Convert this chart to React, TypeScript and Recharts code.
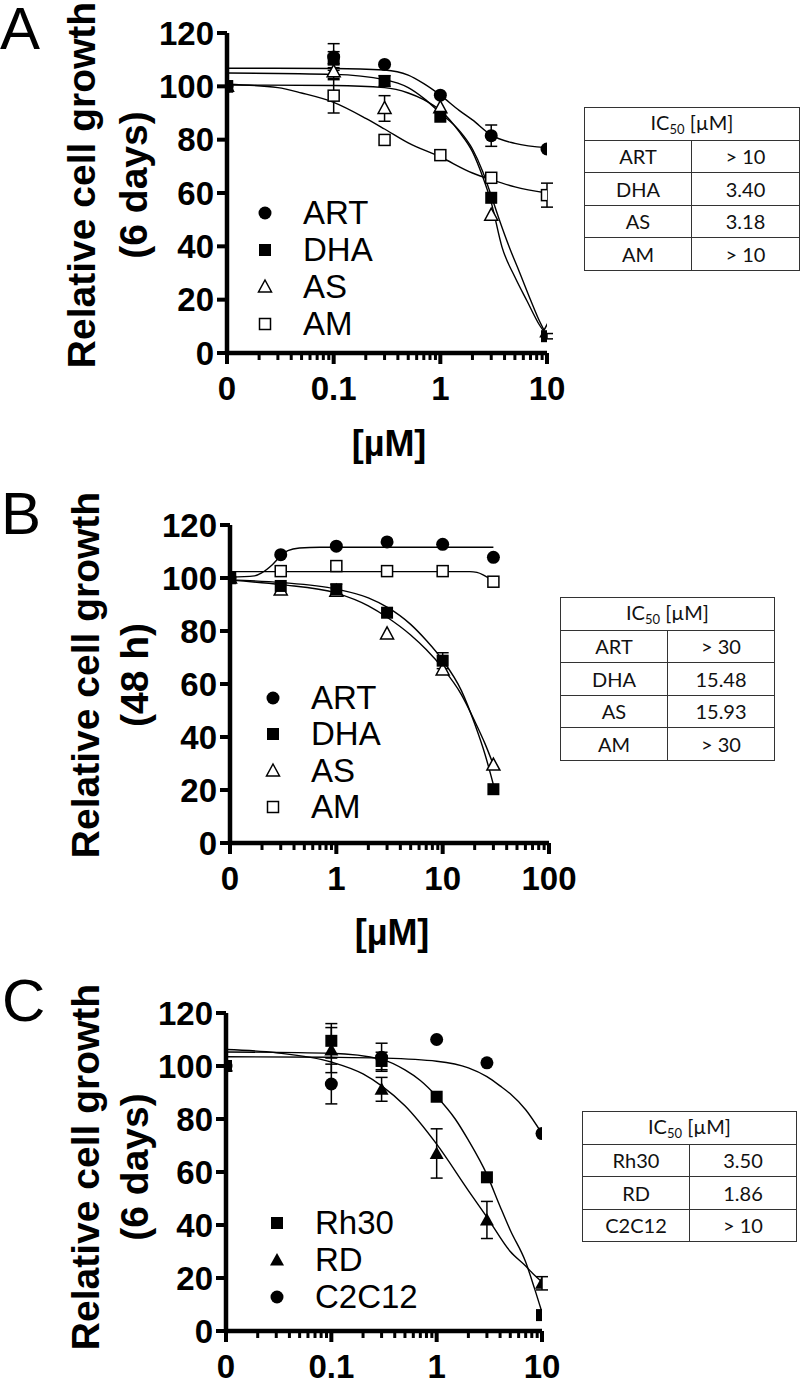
import React from 'react';
import { ComposedChart, Line, Scatter, XAxis, YAxis, ErrorBar } from 'recharts';

const SANS = '"Liberation Sans", Arial, Helvetica, sans-serif';
const TABLE_FONT = 'Lato, "Noto Sans", sans-serif';
const MU = '\u00b5';

type Pt = [number, number];
type Kind = 'circle' | 'square' | 'triangle' | 'openTriangle' | 'openSquare';

const yTicks = [0, 20, 40, 60, 80, 100, 120];

// ---------- Panel A: 6 days ----------
const concA = [0, 0.1, 0.3, 1, 3, 10];
const artA = [100, 111, 108.2, 96.7, 81.5, 76.5];
const artAErr = [null, 5, null, null, 4, null];
const dhaA = [100, 110, 102, 88.6, 58.2, 6.3];
const dhaAErr = [null, 3, 2, null, null, 1];
const asA = [100, 105.5, 91.7, 92, 51.7, 8];
const asAErr = [null, 3, 4.8, null, null, null];
const amA = [100, 96.5, 79.9, 74.2, 65.7, 59.2];
const amAErr = [null, 6.5, null, null, null, 4.5];

// fitted curves (x = 0 means the axis break)
const fitArtA: Pt[] = [[0, 106.8], [0.1, 106.7], [0.3, 106.1], [0.5, 104.2], [0.7, 101], [1, 96.7], [1.5, 91], [2, 87.4], [3, 81.7], [5, 78.6], [10, 77]];
const fitDhaA: Pt[] = [[0, 105], [0.1, 104.5], [0.3, 102.5], [0.5, 99.5], [0.7, 95.5], [1, 90], [1.5, 83.5], [2, 76.5], [2.5, 68], [3, 59], [3.5, 51], [4.5, 39], [5.5, 30.5], [7, 20], [8.5, 12], [10, 6.5]];
const fitAsA: Pt[] = [[0, 100.5], [0.1, 100.3], [0.3, 99.5], [0.5, 97.5], [0.7, 95], [1, 91], [1.5, 83], [2, 75.5], [2.5, 66], [3, 56.5], [3.8, 39.5], [5, 28.5], [6.5, 19.5], [8.5, 10.5], [10, 6.5]];
const fitAmA: Pt[] = [[0, 100.8], [0.03, 99.5], [0.05, 97.5], [0.1, 94], [0.2, 88], [0.3, 84], [0.5, 78.8], [1, 73.5], [2, 67.5], [3, 65], [5, 62.3], [10, 60]];

const icA = [['ART', '> 10'], ['DHA', '3.40'], ['AS', '3.18'], ['AM', '> 10']];

// ---------- Panel B: 48 h ----------
const concB = [0, 0.3, 1, 3, 10, 30];
const artB = [100, 108.8, 112, 113.6, 112.7, 107.8];
const dhaB = [100, 97, 95.7, 86.9, 68.8, 20.3];
const dhaBErr = [null, null, 2, null, 3, null];
const asB = [100, 95.5, 95, 78.9, 65.3, 29.4];
const amB = [100, 102.6, 104.5, 102.6, 102.6, 98.6];

const fitArtB: Pt[] = [[0, 100.3], [0.17, 100.8], [0.2, 102], [0.25, 105], [0.3, 108.3], [0.35, 110.3], [0.45, 111.3], [0.7, 111.6], [30, 111.6]];
const fitDhaB: Pt[] = [[0, 99.3], [0.3, 98.3], [1, 95.8], [2, 92.5], [3, 89], [5, 82.5], [7, 76.5], [10, 69], [15, 57.5], [20, 45], [25, 33.5], [30, 22]];
const fitAsB: Pt[] = [[0, 99.2], [0.3, 97.5], [1, 94.3], [2, 89.5], [3, 85.2], [5, 78.5], [7, 73], [10, 66], [15, 56], [20, 46], [25, 37.5], [30, 29.5]];
const fitAmB: Pt[] = [[0, 102.4], [18, 102.4], [21, 102.1], [24, 101.2], [27, 100], [30, 98.6]];

const icB = [['ART', '> 30'], ['DHA', '15.48'], ['AS', '15.93'], ['AM', '> 30']];

// ---------- Panel C: cell lines, 6 days ----------
const concC = [0, 0.1, 0.3, 1, 3, 10];
const rh30C = [100, 109.5, 101.9, 88.4, 58, 6];
const rh30CErr = [null, 6.5, 3.3, null, null, null];
const rdC = [100, 106, 91.2, 67, 41.9, 18];
const rdCErr = [null, 8.5, 4.5, 9.3, 7, 2.5];
const c2c12C = [100, 93.2, 103.3, 110, 101.2, 74.5];
const c2c12CErr = [null, 7.5, 5.3, null, null, null];

const fitRh30C: Pt[] = [[0, 105.3], [0.1, 104.8], [0.3, 102.5], [0.5, 98.5], [0.7, 94.5], [1, 88.5], [1.5, 80], [2, 72], [3, 59], [4, 47], [5, 38], [7, 26], [8.5, 16], [10, 7]];
const fitRdC: Pt[] = [[0, 106.2], [0.03, 105], [0.1, 101.5], [0.2, 97], [0.3, 92.5], [0.5, 85], [1, 70.5], [2, 53], [3, 43], [5, 30], [7, 24.5], [8.5, 21], [10, 18.5]];
const fitC2c12C: Pt[] = [[0, 103.5], [0.1, 103.3], [0.3, 103], [1, 101.8], [2, 99.3], [3, 96], [4, 92.5], [5, 89.5], [7, 83.5], [10, 74.5]];

const icC = [['Rh30', '3.50'], ['RD', '1.86'], ['C2C12', '> 10']];

interface SeriesDef {
  name: string;
  kind: Kind;
  values: number[];
  errs?: (number | null)[];
  fit: Pt[];
}

interface PanelDef {
  letter: string;
  letterPos: [number, number];
  top: number;
  height: number;
  plotTop: number;
  plotBottom: number;
  plotLeft: number;
  plotRight: number;
  zero: number;
  domain: [number, number];
  majors: number[];
  majorLabels: string[];
  conc: number[];
  series: SeriesDef[];
  drawOrder: number[];
  yTitle: string[];
  yTitlePos: [number, number];
  yTitleGap: number;
  xTitlePos?: [number, number];
  legend: { markerX: number; textX: number; y0: number; step: number };
  table: { left: number; top: number; colW: [number, number]; rows: string[][] };
}

const panels: PanelDef[] = [
  {
    letter: 'A', letterPos: [0, 4],
    top: 0, height: 470, plotTop: 33, plotBottom: 353, plotLeft: 227, plotRight: 547,
    zero: 0.01, domain: [0.01, 10], majors: [0.01, 0.1, 1, 10], majorLabels: ['0', '0.1', '1', '10'],
    conc: concA,
    series: [
      { name: 'ART', kind: 'circle', values: artA, errs: artAErr, fit: fitArtA },
      { name: 'DHA', kind: 'square', values: dhaA, errs: dhaAErr, fit: fitDhaA },
      { name: 'AS', kind: 'openTriangle', values: asA, errs: asAErr, fit: fitAsA },
      { name: 'AM', kind: 'openSquare', values: amA, errs: amAErr, fit: fitAmA },
    ],
    drawOrder: [3, 2, 0, 1],
    yTitle: ['Relative cell growth', '(6 days)'], yTitlePos: [108, 185], yTitleGap: 52,
    xTitlePos: [389, 444],
    legend: { markerX: 265, textX: 303, y0: 213, step: 37 },
    table: { left: 584, top: 107, colW: [107, 108], rows: icA },
  },
  {
    letter: 'B', letterPos: [1, 489],
    top: 470, height: 490, plotTop: 525, plotBottom: 843, plotLeft: 230, plotRight: 549,
    zero: 0.1, domain: [0.1, 100], majors: [0.1, 1, 10, 100], majorLabels: ['0', '1', '10', '100'],
    conc: concB,
    series: [
      { name: 'ART', kind: 'circle', values: artB, fit: fitArtB },
      { name: 'DHA', kind: 'square', values: dhaB, errs: dhaBErr, fit: fitDhaB },
      { name: 'AS', kind: 'openTriangle', values: asB, fit: fitAsB },
      { name: 'AM', kind: 'openSquare', values: amB, fit: fitAmB },
    ],
    drawOrder: [3, 2, 0, 1],
    yTitle: ['Relative cell growth', '(48 h)'], yTitlePos: [110, 675], yTitleGap: 49,
    xTitlePos: [392, 933],
    legend: { markerX: 273, textX: 311, y0: 698, step: 36.3 },
    table: { left: 560, top: 597, colW: [106, 106], rows: icB },
  },
  {
    letter: 'C', letterPos: [2, 976],
    top: 960, height: 440, plotTop: 1013, plotBottom: 1331, plotLeft: 226, plotRight: 542,
    zero: 0.01, domain: [0.01, 10], majors: [0.01, 0.1, 1, 10], majorLabels: ['0', '0.1', '1', '10'],
    conc: concC,
    series: [
      { name: 'Rh30', kind: 'square', values: rh30C, errs: rh30CErr, fit: fitRh30C },
      { name: 'RD', kind: 'triangle', values: rdC, errs: rdCErr, fit: fitRdC },
      { name: 'C2C12', kind: 'circle', values: c2c12C, errs: c2c12CErr, fit: fitC2c12C },
    ],
    drawOrder: [0, 1, 2],
    yTitle: ['Relative cell growth', '(6 days)'], yTitlePos: [110, 1167], yTitleGap: 49,
    legend: { markerX: 277, textX: 315, y0: 1223, step: 37 },
    table: { left: 582, top: 1111, colW: [106, 106], rows: icC },
  },
];

const CHART_W = 600;
const Y_AXIS_W = 60;
const X_AXIS_H = 60;

function minorTicks(majors: number[]) {
  const out: number[] = [];
  for (let i = 0; i < majors.length - 1; i++) {
    for (let k = 2; k <= 9; k++) out.push(+(majors[i] * k).toPrecision(3));
  }
  return out;
}

function Marker({ kind, cx, cy }: { kind: Kind; cx: number; cy: number }) {
  switch (kind) {
    case 'circle':
      return <circle cx={cx} cy={cy} r={6.5} fill="#000" />;
    case 'square':
      return <rect x={cx - 6} y={cy - 6} width={12} height={12} fill="#000" />;
    case 'triangle':
      return <polygon points={`${cx},${cy - 7} ${cx + 7},${cy + 5.5} ${cx - 7},${cy + 5.5}`} fill="#000" />;
    case 'openTriangle':
      return (
        <polygon
          points={`${cx},${cy - 7} ${cx + 6.5},${cy + 5} ${cx - 6.5},${cy + 5}`}
          fill="#fff"
          stroke="#000"
          strokeWidth={1.5}
        />
      );
    case 'openSquare':
      return <rect x={cx - 5.5} y={cy - 5.5} width={11} height={11} fill="#fff" stroke="#000" strokeWidth={1.5} />;
  }
  return null;
}

function XTick(props: any) {
  const { x, y, payload, majors, labels } = props;
  const idx = majors.findIndex((m: number) => Math.abs(m - payload.value) < 1e-9);
  const major = idx >= 0;
  return (
    <g>
      <line x1={x} x2={x} y1={y} y2={y + (major ? 11 : 7)} stroke="#000" strokeWidth={major ? 4 : 3} />
      {major && (
        <text x={x} y={y + 47} textAnchor="middle" fontFamily={SANS} fontWeight={700} fontSize={33} fill="#000">
          {labels[idx]}
        </text>
      )}
    </g>
  );
}

function LegendMarker({ kind }: { kind: Kind }) {
  return (
    <svg width={18} height={18} style={{ display: 'block' }}>
      <Marker kind={kind} cx={9} cy={9} />
    </svg>
  );
}

function Panel({ p }: { p: PanelDef }) {
  const toX = (c: number) => (c === 0 ? p.zero : c);
  const ticks = [...p.majors, ...minorTicks(p.majors)];
  const cellStyle = (w: number): React.CSSProperties => ({
    width: w,
    height: 31.5,
    padding: 0,
    border: '1.5px solid #333',
    textAlign: 'center',
    verticalAlign: 'middle',
    lineHeight: '20px',
  });

  return (
    <>
      <div
        style={{
          position: 'absolute',
          left: p.letterPos[0],
          top: p.letterPos[1],
          fontFamily: SANS,
          fontSize: 60,
          lineHeight: '50px',
          color: '#000',
        }}
      >
        {p.letter}
      </div>

      <div
        style={{
          position: 'absolute',
          left: p.yTitlePos[0],
          top: p.yTitlePos[1],
          transform: 'translate(-50%, -50%) rotate(-90deg)',
          fontFamily: SANS,
          fontWeight: 700,
          fontSize: 39,
          lineHeight: `${p.yTitleGap}px`,
          textAlign: 'center',
          whiteSpace: 'nowrap',
          color: '#000',
        }}
      >
        {p.yTitle[0]}
        <br />
        {p.yTitle[1]}
      </div>

      {p.xTitlePos && (
        <div
          style={{
            position: 'absolute',
            left: p.xTitlePos[0],
            top: p.xTitlePos[1],
            transform: 'translate(-50%, -50%)',
            fontFamily: SANS,
            fontWeight: 700,
            fontSize: 36,
            lineHeight: '40px',
            whiteSpace: 'nowrap',
            color: '#000',
          }}
        >
          [{MU}M]
        </div>
      )}

      <div style={{ position: 'absolute', left: 0, top: p.top }}>
        <ComposedChart
          width={CHART_W}
          height={p.height}
          margin={{
            top: p.plotTop - p.top,
            bottom: p.top + p.height - p.plotBottom - X_AXIS_H,
            left: p.plotLeft - Y_AXIS_W,
            right: CHART_W - p.plotRight,
          }}
        >
          <XAxis
            dataKey="x"
            type="number"
            scale="log"
            domain={p.domain}
            allowDataOverflow
            ticks={ticks}
            interval={0}
            height={X_AXIS_H}
            tickSize={0}
            tickMargin={0}
            tickLine={false}
            axisLine={{ stroke: '#000', strokeWidth: 4.5 }}
            tick={(t: any) => <XTick {...t} majors={p.majors} labels={p.majorLabels} />}
          />
          <YAxis
            dataKey="y"
            type="number"
            domain={[0, 120]}
            allowDataOverflow
            ticks={yTicks}
            interval={0}
            width={Y_AXIS_W}
            tickSize={10}
            tickMargin={3}
            axisLine={{ stroke: '#000', strokeWidth: 4.5 }}
            tickLine={{ stroke: '#000', strokeWidth: 4 }}
            tick={{ fill: '#000', fontSize: 33, fontWeight: 700, fontFamily: SANS }}
          />
          {p.series.map((s) => (
            <Line
              key={`fit-${s.name}`}
              data={s.fit.map(([x, y]) => ({ x: toX(x), y }))}
              dataKey="y"
              type="monotone"
              stroke="#000"
              strokeWidth={1.4}
              dot={false}
              activeDot={false}
              isAnimationActive={false}
            />
          ))}
          {p.series
            .filter((s) => s.errs)
            .map((s) => (
              <Scatter
                key={`err-${s.name}`}
                data={p.conc.map((c, i) => ({ x: toX(c), y: s.values[i], err: s.errs![i] }))}
                shape={() => <g />}
                isAnimationActive={false}
              >
                <ErrorBar dataKey="err" direction="y" width={6} stroke="#000" strokeWidth={1.5} />
              </Scatter>
            ))}
          {p.drawOrder.map((si) => {
            const s = p.series[si];
            return (
              <Scatter
                key={`pts-${s.name}`}
                data={p.conc.map((c, i) => ({ x: toX(c), y: s.values[i] }))}
                shape={(sp: any) => <Marker kind={s.kind} cx={sp.cx} cy={sp.cy} />}
                isAnimationActive={false}
              />
            );
          })}
        </ComposedChart>
      </div>

      {p.series.map((s, i) => {
        const cy = p.legend.y0 + i * p.legend.step;
        return (
          <React.Fragment key={`lg-${s.name}`}>
            <div style={{ position: 'absolute', left: p.legend.markerX - 9, top: cy - 9 }}>
              <LegendMarker kind={s.kind} />
            </div>
            <div
              style={{
                position: 'absolute',
                left: p.legend.textX,
                top: cy - 20,
                height: 40,
                lineHeight: '40px',
                fontFamily: SANS,
                fontSize: 33,
                color: '#000',
                whiteSpace: 'nowrap',
              }}
            >
              {s.name}
            </div>
          </React.Fragment>
        );
      })}

      <table
        style={{
          position: 'absolute',
          left: p.table.left,
          top: p.table.top,
          borderCollapse: 'collapse',
          fontFamily: TABLE_FONT,
          fontSize: 20,
          color: '#111',
          tableLayout: 'fixed',
          background: '#fff',
        }}
      >
        <tbody>
          <tr>
            <td colSpan={2} style={cellStyle(p.table.colW[0] + p.table.colW[1])}>
              IC<span style={{ fontSize: 13, position: 'relative', top: 4 }}>50</span> [{MU}M]
            </td>
          </tr>
          {p.table.rows.map(([n, v]) => (
            <tr key={n}>
              <td style={cellStyle(p.table.colW[0])}>{n}</td>
              <td style={cellStyle(p.table.colW[1])}>{v}</td>
            </tr>
          ))}
        </tbody>
      </table>
    </>
  );
}

export default function App() {
  return (
    <div
      style={{
        position: 'absolute',
        left: 0,
        top: 0,
        width: 800,
        height: 1380,
        background: '#fff',
        overflow: 'hidden',
      }}
    >
      {panels.map((p) => (
        <Panel key={p.letter} p={p} />
      ))}
    </div>
  );
}
